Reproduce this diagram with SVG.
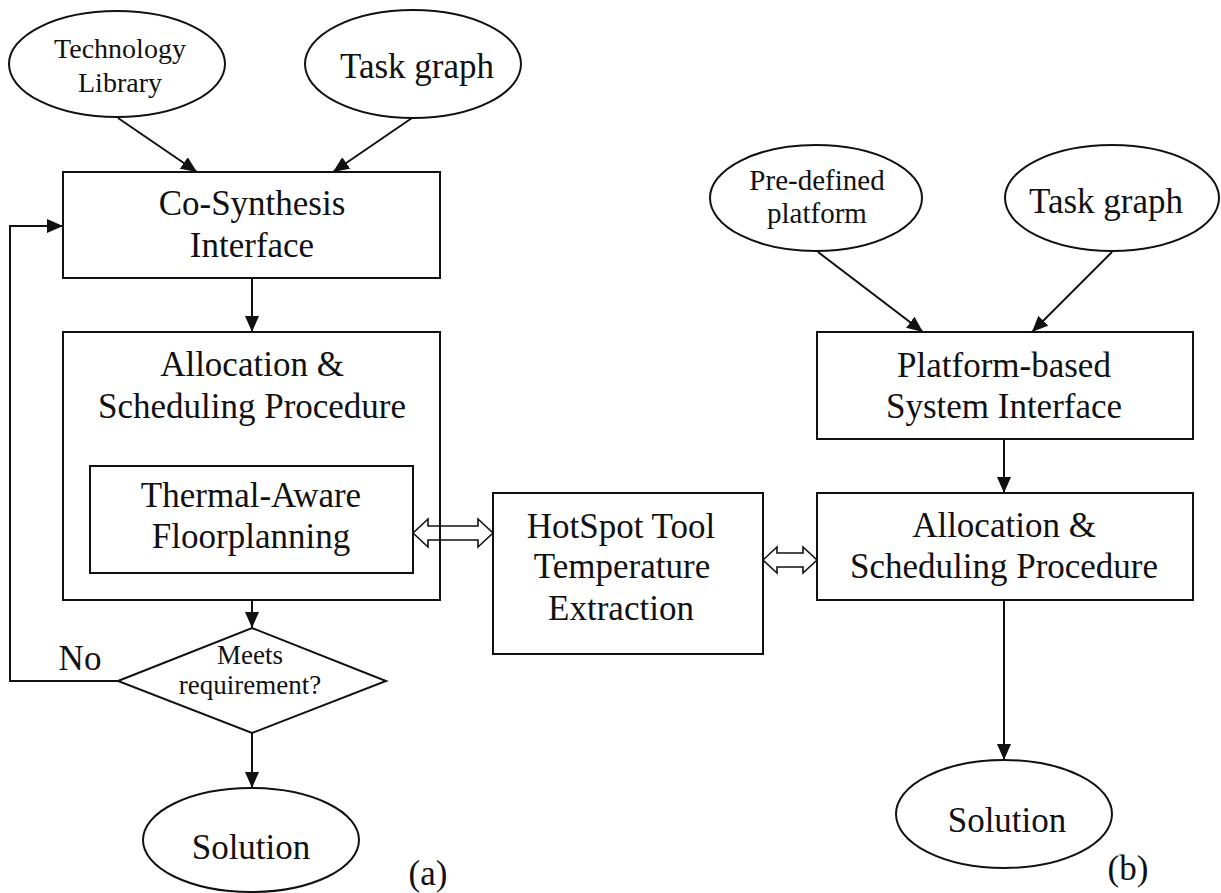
<svg xmlns="http://www.w3.org/2000/svg" width="1221" height="893" viewBox="0 0 1221 893">
  <style>
    .shape { fill: none; stroke: #111; stroke-width: 2; }
    .edge { fill: none; stroke: #111; stroke-width: 2; }
    .dbl { fill: none; stroke: #111; stroke-width: 1.6; stroke-linejoin: miter; }
    text { font-family: "Liberation Serif", "Times New Roman", serif; fill: #111; text-anchor: middle; }
    .big { font-size: 35px; }
    .mid { font-size: 29px; }
    .small { font-size: 28px; }
    .tiny { font-size: 27px; }
  </style>
  <defs>
    <marker id="arrow" viewBox="0 0 16 14" refX="16" refY="7" markerWidth="16" markerHeight="14" markerUnits="userSpaceOnUse" orient="auto">
      <path d="M0,0 L16,7 L0,14 Z" fill="#111"/>
    </marker>
  </defs>
  <rect width="1221" height="893" fill="#fff"/>

  <!-- (a) flow -->
  <g id="tech-library">
    <ellipse class="shape" cx="117" cy="64" rx="108" ry="53"/>
    <text class="small" x="120" y="58">Technology</text>
    <text class="small" x="120" y="92">Library</text>
  </g>
  <g id="task-graph-a">
    <ellipse class="shape" cx="413" cy="64" rx="108" ry="54"/>
    <text class="big" x="417" y="78">Task graph</text>
  </g>
  <g id="co-synthesis">
    <rect class="shape" x="63" y="172" width="377" height="106"/>
    <text class="big" x="252" y="215">Co-Synthesis</text>
    <text class="big" x="252" y="257">Interface</text>
  </g>
  <g id="alloc-a">
    <rect class="shape" x="63" y="332" width="377" height="268"/>
    <text class="big" x="252" y="376">Allocation &amp;</text>
    <text class="big" x="252" y="418">Scheduling Procedure</text>
  </g>
  <g id="thermal-floorplanning">
    <rect class="shape" x="90" y="466" width="323" height="107"/>
    <text class="big" x="251" y="507">Thermal-Aware</text>
    <text class="big" x="251" y="548">Floorplanning</text>
  </g>
  <g id="meets-requirement">
    <polygon class="shape" points="118,681 252,628 386,681 252,733"/>
    <text class="tiny" x="250" y="664">Meets</text>
    <text class="tiny" x="250" y="694">requirement?</text>
  </g>
  <g id="solution-a">
    <ellipse class="shape" cx="251" cy="840" rx="108" ry="52"/>
    <text class="big" x="251" y="859">Solution</text>
  </g>
  <g id="label-a">
    <text class="big" x="428" y="885">(a)</text>
  </g>

  <!-- shared tool -->
  <g id="hotspot">
    <rect class="shape" x="493" y="493" width="270" height="161"/>
    <text class="big" x="621" y="538">HotSpot Tool</text>
    <text class="big" x="622" y="578">Temperature</text>
    <text class="big" x="621" y="620">Extraction</text>
  </g>

  <!-- (b) flow -->
  <g id="predefined-platform">
    <ellipse class="shape" cx="816" cy="198" rx="106" ry="53"/>
    <text class="mid" x="817" y="190">Pre-defined</text>
    <text class="mid" x="817" y="223">platform</text>
  </g>
  <g id="task-graph-b">
    <ellipse class="shape" cx="1112" cy="198" rx="107" ry="53"/>
    <text class="big" x="1106" y="213">Task graph</text>
  </g>
  <g id="platform-interface">
    <rect class="shape" x="817" y="332" width="376" height="107"/>
    <text class="big" x="1004" y="377">Platform-based</text>
    <text class="big" x="1004" y="418">System Interface</text>
  </g>
  <g id="alloc-b">
    <rect class="shape" x="817" y="493" width="376" height="107"/>
    <text class="big" x="1004" y="537">Allocation &amp;</text>
    <text class="big" x="1004" y="578">Scheduling Procedure</text>
  </g>
  <g id="solution-b">
    <ellipse class="shape" cx="1004" cy="814" rx="108" ry="54"/>
    <text class="big" x="1007" y="832">Solution</text>
  </g>
  <g id="label-b">
    <text class="big" x="1128" y="880">(b)</text>
  </g>

  <g id="connectors">
    <line class="edge" x1="118" y1="118" x2="197" y2="172" marker-end="url(#arrow)"/>
    <line class="edge" x1="412" y1="118" x2="333" y2="172" marker-end="url(#arrow)"/>
    <line class="edge" x1="252" y1="278" x2="252" y2="332" marker-end="url(#arrow)"/>
    <line class="edge" x1="252" y1="600" x2="252" y2="628" marker-end="url(#arrow)"/>
    <line class="edge" x1="252" y1="733" x2="252" y2="788" marker-end="url(#arrow)"/>
    <polyline class="edge" points="118,681 10,681 10,226 63,226" marker-end="url(#arrow)"/>
    <text class="big" x="80" y="670">No</text>

    <line class="edge" x1="818" y1="252" x2="923" y2="332" marker-end="url(#arrow)"/>
    <line class="edge" x1="1112" y1="252" x2="1032" y2="332" marker-end="url(#arrow)"/>
    <line class="edge" x1="1004" y1="439" x2="1004" y2="493" marker-end="url(#arrow)"/>
    <line class="edge" x1="1004" y1="600" x2="1004" y2="760" marker-end="url(#arrow)"/>

    <!-- hollow two-way arrows to the thermal tool -->
    <path class="dbl" d="M413,533 L428,519 L428,526 L478,526 L478,519 L493,533 L478,547 L478,540 L428,540 L428,547 Z"/>
    <path class="dbl" d="M763,560 L777,547 L777,553 L803,553 L803,547 L817,560 L803,573 L803,567 L777,567 L777,573 Z"/>
  </g>
</svg>
